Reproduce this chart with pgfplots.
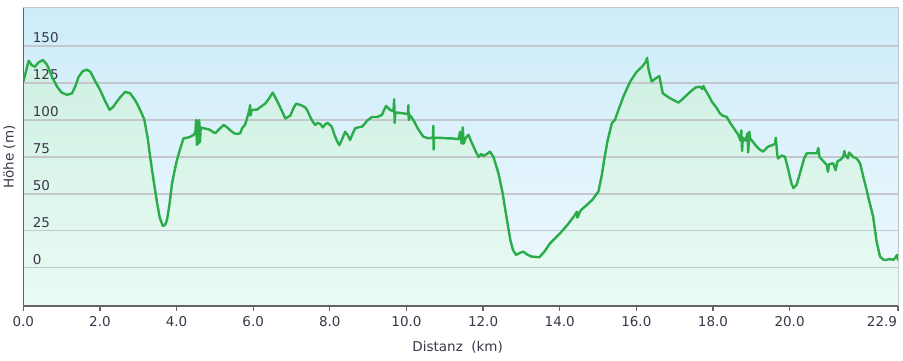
\documentclass[border=0pt]{standalone}
\usepackage{fontspec}
\setmainfont{DejaVu Sans}
\usepackage{pgfplots}
\pgfplotsset{compat=1.18}
\usepackage{pgfplotstable}
\definecolor{lineg}{RGB}{42,172,72}
\definecolor{gridc}{RGB}{196,200,204}
\definecolor{axc}{RGB}{100,100,104}
\definecolor{txt}{RGB}{58,54,74}
\definecolor{bgtop}{RGB}{205,236,250}
\definecolor{bgbot}{RGB}{240,249,253}
\definecolor{filltop}{RGB}{206,240,226}
\definecolor{fillbot}{RGB}{234,251,243}
\pgfplotstableread{
km elev
0.00 126
0.05 131
0.14 140
0.22 137
0.30 136
0.40 139
0.51 140.5
0.60 138
0.66 135
0.75 129
0.88 122.5
1.00 118.5
1.14 117
1.27 118
1.36 123
1.44 129
1.55 133
1.65 134
1.75 132.6
1.88 126
2.01 120
2.13 113
2.25 106.8
2.35 109
2.44 112.4
2.55 116
2.66 119
2.79 118
2.90 114
2.97 111
3.08 105
3.16 100
3.25 87
3.31 75
3.40 59
3.49 44
3.56 34
3.64 28.4
3.70 29
3.75 32.4
3.82 44
3.88 57
3.95 66
4.01 73
4.10 81
4.18 87.6
4.28 88
4.36 88.7
4.45 90
4.49 92
4.51 100
4.53 83
4.55 99
4.57 84
4.59 100
4.61 85
4.63 95
4.70 94.4
4.84 93.7
5.01 91
5.12 94
5.23 96.6
5.32 95
5.40 93
5.50 91
5.58 90.5
5.66 91
5.71 94.4
5.79 97
5.86 103
5.90 107
5.92 110
5.93 103
5.96 106.8
6.10 107
6.20 109
6.31 111
6.40 114
6.51 118.5
6.58 115
6.66 111
6.75 106
6.84 101
6.97 103
7.05 108
7.12 111
7.25 110
7.36 108.5
7.42 106
7.49 102
7.55 99
7.62 96.6
7.68 98
7.75 97.3
7.82 95
7.88 97
7.94 98
8.05 95.5
8.12 90
8.20 85
8.25 83
8.32 87
8.40 92
8.46 90
8.53 86.5
8.60 91
8.66 94.4
8.75 95
8.84 95.5
8.90 97
8.97 99.5
9.05 101
9.10 102
9.23 102
9.36 103.4
9.42 107
9.47 109.5
9.57 106.8
9.66 106
9.68 114
9.69 98
9.71 105
9.75 105
9.90 104.5
10.04 104
10.05 110
10.06 100
10.10 103
10.18 100
10.30 94
10.44 88.7
10.57 87.6
10.69 88
10.70 96
10.71 80
10.72 88
10.85 88
11.05 87.6
11.20 87.5
11.36 87
11.40 92
11.44 84
11.47 95
11.49 84
11.55 88
11.62 90
11.68 86
11.75 82
11.82 78
11.88 75
11.95 77
12.01 75.7
12.10 77
12.18 78.6
12.27 75
12.33 70
12.40 64
12.51 50.5
12.60 36
12.71 19
12.78 12
12.86 8.8
12.95 10
13.05 11
13.15 9
13.27 7.6
13.47 7.2
13.60 11
13.75 16.7
14.01 23.4
14.20 29
14.40 35.8
14.45 38
14.46 34
14.55 39
14.71 42.6
14.85 46
15.01 51.6
15.10 63
15.16 73
15.25 86
15.36 97.8
15.44 100
15.55 108
15.66 115.7
15.84 126
16.01 132.6
16.15 136
16.25 139.4
16.28 142
16.32 134
16.40 126
16.50 128
16.60 129.7
16.69 118
16.80 116
16.88 114.7
17.00 113
17.10 111.7
17.20 114
17.27 115.7
17.45 120
17.55 122
17.66 122.5
17.72 121
17.75 123
17.79 120.7
17.90 116
17.97 112.4
18.10 108
18.18 104.5
18.25 103
18.36 102
18.45 98
18.58 93
18.66 90
18.72 86
18.74 93
18.76 79
18.78 88
18.85 86
18.90 91
18.92 78
18.95 92
18.97 87.6
19.05 85
19.14 82
19.22 80
19.31 78.6
19.40 81
19.44 82
19.55 83
19.62 83.8
19.64 88
19.68 76
19.70 74
19.80 76
19.88 75
19.95 68
20.05 57
20.10 54
20.18 56
20.25 62
20.32 68.4
20.38 74
20.45 77.5
20.60 77.5
20.71 77.5
20.75 81
20.78 75
20.85 73
20.97 69.6
21.00 65
21.03 70
21.14 70.7
21.20 66
21.25 72
21.32 73
21.40 75
21.43 79
21.45 76.4
21.52 74
21.55 78
21.66 75
21.75 74
21.84 70.7
21.92 62
22.01 52.7
22.10 43
22.18 34.7
22.27 18
22.36 7.6
22.45 5.5
22.53 5.4
22.60 6
22.71 5.4
22.76 7
22.81 8.8
22.83 5
}\profile
\begin{document}
\begin{tikzpicture}
\path (0,0) rectangle (903pt,361pt);
\begin{axis}[
  set layers=standard,
  at={(23pt,55pt)}, anchor=south west,
  width=875pt, height=298pt, scale only axis,
  xmin=0, xmax=22.83, ymin=-25.7, ymax=175.7,
  axis x line*=bottom, axis y line*=left,
  axis line style={-, draw=axc, line width=1.6pt},
  xtick={0,2,4,6,8,10,12,14,16,18,20},
  xticklabels={0.0,2.0,4.0,6.0,8.0,10.0,12.0,14.0,16.0,18.0,20.0},
  extra x ticks={22.83},
  extra x tick labels={22.9},
  extra x tick style={xticklabel style={xshift=-16pt}},
  ytick={0,25,50,75,100,125,150},
  yticklabels={0,25,50,75,100,125,150},
  ymajorgrids=true,
  grid style={draw=gridc, line width=1.2pt},
  tick align=outside,
  x tick style={draw=axc, line width=1.2pt},
  major tick length=5pt,
  y tick style={draw=none},
  tick label style={font=\fontsize{13.5}{16}\selectfont, text=txt},
  xticklabel style={yshift=-2.5pt},
  yticklabel style={anchor=south west, xshift=11pt, yshift=0pt},
  xlabel={Distanz~~(km)},
  ylabel={Höhe (m)},
  label style={font=\fontsize{13.5}{16}\selectfont, text=txt},
  xlabel style={at={(axis description cs:0.5,0)}, anchor=center, yshift=-41pt, xshift=-3pt},
  ylabel style={at={(axis description cs:-0.016,0.5)}, anchor=center},
]
\addplot[on layer=axis background, draw=gridc, line width=1pt, top color=bgtop, bottom color=bgbot] coordinates {(0,-25.7) (22.83,-25.7) (22.83,175.7) (0,175.7)} -- cycle;
\addplot[on layer=axis background, draw=none, top color=filltop, bottom color=fillbot] table[x=km,y=elev] {\profile} -- (axis cs:22.83,-25.7) -- (axis cs:0,-25.7) -- cycle;
\addplot[lineg, line width=2.4pt, line join=round] table[x=km,y=elev] {\profile};
\end{axis}
\end{tikzpicture}
\end{document}
